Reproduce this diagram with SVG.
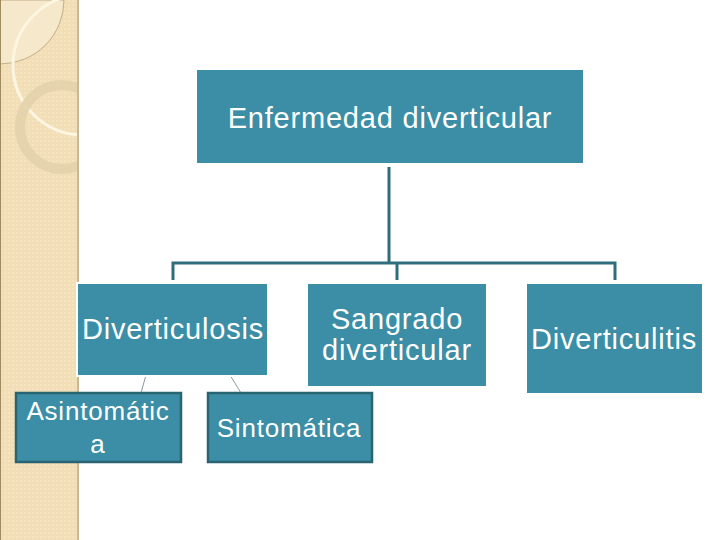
<svg xmlns="http://www.w3.org/2000/svg" width="720" height="540" viewBox="0 0 720 540">
<defs>
<pattern id="dots" width="4" height="4" patternUnits="userSpaceOnUse">
<rect width="4" height="4" fill="#f1deb6"/>
<rect width="2" height="2" fill="#f4e4c0"/>
</pattern>
<clipPath id="strip"><rect x="0" y="0" width="78" height="540"/></clipPath>
</defs>
<style>
.box{fill:#3b8ea5}
.sub{fill:#3b8ea5;stroke:#2a6473;stroke-width:2.5}
.t{font-family:"Liberation Sans",Arial,sans-serif;fill:#ffffff;text-anchor:middle;letter-spacing:0.8px}
.big{font-size:29px}
.small{font-size:26px}
.conn{stroke:#2f6d7d;stroke-width:3;fill:none}
.thin{stroke:#8a9aa0;stroke-width:1;fill:none}
</style>
<rect width="720" height="540" fill="#ffffff"/>
<g id="background">
<rect x="0" y="0" width="78" height="540" fill="url(#dots)"/>
<g clip-path="url(#strip)">
<path d="M0,0 L64,0 A64,64 0 0 1 0,64 Z" fill="#f6e8ca" stroke="#b8a07a" stroke-width="0.8"/>
<circle cx="83" cy="65" r="70" fill="none" stroke="#fdf6e2" stroke-width="3"/>
<circle cx="62" cy="127" r="42" fill="none" stroke="#e3d2ab" stroke-width="10" stroke-opacity="0.9"/>
</g>
<rect x="77" y="0" width="2" height="540" fill="#c9b796"/>
<rect x="0" y="0" width="1" height="540" fill="#a08a60"/>
</g>
<g id="connectors">
<path class="conn" d="M389,167 V263 M173,280 V263 H615 V280 M397,263 V280"/>
<path class="thin" d="M146,375 L141,393 M230,375 L241,393"/>
</g>
<g id="n-enfermedad">
<rect class="box" x="197" y="70" width="386" height="93"/>
<text class="t big" x="390" y="128">Enfermedad diverticular</text>
</g>
<g id="n-diverticulosis">
<rect x="76" y="282" width="193" height="95" fill="#ffffff"/>
<rect class="box" x="78" y="284" width="189" height="91"/>
<text class="t big" x="173" y="339">Diverticulosis</text>
</g>
<g id="n-sangrado">
<rect class="box" x="308" y="284" width="178" height="102"/>
<text class="t big" x="397" y="329">Sangrado</text>
<text class="t big" x="397" y="360">diverticular</text>
</g>
<g id="n-diverticulitis">
<rect class="box" x="527" y="284" width="175" height="109"/>
<text class="t big" x="614" y="349">Diverticulitis</text>
</g>
<g id="n-asintomatica">
<rect class="sub" x="16" y="393" width="165" height="69"/>
<text class="t small" x="98" y="420">Asintomátic</text>
<text class="t small" x="98" y="453">a</text>
</g>
<g id="n-sintomatica">
<rect class="sub" x="208" y="393" width="164" height="69"/>
<text class="t small" x="289" y="437">Sintomática</text>
</g>
</svg>
